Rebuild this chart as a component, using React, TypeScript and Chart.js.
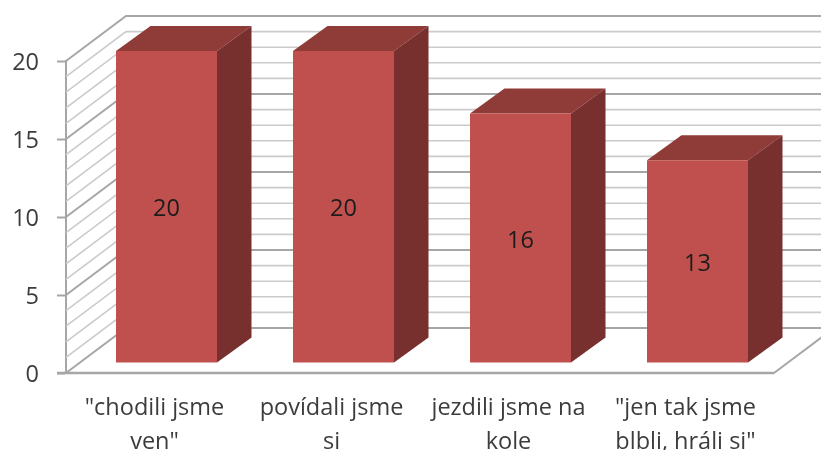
import React, { useEffect, useRef } from "react";
import { Chart, registerables } from "chart.js";

Chart.register(...registerables);

const categories = [['"chodili jsme', 'ven"'], ['povídali jsme', 'si'], ['jezdili jsme na', 'kole'], ['"jen tak jsme', 'blbli, hráli si"']];
const values = [20, 20, 16, 13];

const FONT = "'Open Sans', Lato, sans-serif";
const WALL_DX = 60;
const WALL_DY = 45;
const BAR_DX = 34.5;
const BAR_DY = 25;
const SHIFT_X = 12;
const SHIFT_Y = 10;
const MINOR = "#cbcbcb";
const MAJOR = "#a6a6a6";

const threeD = {
  id: "threeD",
  beforeDatasetsDraw(chart: any) {
    const { ctx, chartArea, scales } = chart;
    const y = scales.y;
    const line = (pts: number[][], color: string, w: number) => {
      ctx.beginPath();
      pts.forEach((p, i) => (i ? ctx.lineTo(p[0], p[1]) : ctx.moveTo(p[0], p[1])));
      ctx.strokeStyle = color;
      ctx.lineWidth = w;
      ctx.stroke();
    };
    const L = chartArea.left;
    const R = chartArea.right;
    ctx.save();
    y.ticks.forEach((t: any) => {
      const py = y.getPixelForValue(t.value);
      const major = t.value % 5 === 0;
      line(
        [[L, py], [L + WALL_DX, py - WALL_DY], [R + WALL_DX, py - WALL_DY]],
        major ? MAJOR : MINOR,
        major ? 2 : 1.6
      );
    });
    const by = y.getPixelForValue(0);
    line([[R, by], [R + WALL_DX, by - WALL_DY]], MAJOR, 2);
    line([[L - 9, by], [R, by]], MAJOR, 2.4);
    chart.getDatasetMeta(0).data.forEach((b: any) => {
      const x0 = b.x - b.width / 2 + SHIFT_X;
      const x1 = b.x + b.width / 2 + SHIFT_X;
      const top = b.y - SHIFT_Y;
      const bot = b.base - SHIFT_Y;
      ctx.fillStyle = "#8f3b38";
      ctx.beginPath();
      ctx.moveTo(x0, top);
      ctx.lineTo(x0 + BAR_DX, top - BAR_DY);
      ctx.lineTo(x1 + BAR_DX, top - BAR_DY);
      ctx.lineTo(x1, top);
      ctx.closePath();
      ctx.fill();
      ctx.fillStyle = "#77302e";
      ctx.beginPath();
      ctx.moveTo(x1, top);
      ctx.lineTo(x1 + BAR_DX, top - BAR_DY);
      ctx.lineTo(x1 + BAR_DX, bot - BAR_DY);
      ctx.lineTo(x1, bot);
      ctx.closePath();
      ctx.fill();
    });
    ctx.restore();
  },
  beforeDatasetDraw(chart: any) {
    chart.ctx.save();
    chart.ctx.translate(SHIFT_X, -SHIFT_Y);
  },
  afterDatasetDraw(chart: any) {
    chart.ctx.restore();
  },
  afterDatasetsDraw(chart: any) {
    const { ctx } = chart;
    ctx.save();
    ctx.font = `23.5px ${FONT}`;
    ctx.fillStyle = "#1c1c1c";
    ctx.textAlign = "center";
    ctx.textBaseline = "middle";
    chart.getDatasetMeta(0).data.forEach((b: any, i: number) => {
      ctx.fillText(String(values[i]), b.x + SHIFT_X, (b.y + b.base) / 2 - SHIFT_Y + 3);
    });
    ctx.restore();
  },
};

export default function App() {
  const ref = useRef<HTMLCanvasElement>(null);
  useEffect(() => {
    const chart = new Chart(ref.current as HTMLCanvasElement, {
      type: "bar",
      data: {
        labels: categories as any,
        datasets: [
          {
            data: values,
            backgroundColor: "#c0504d",
            barPercentage: 101 / 177,
            categoryPercentage: 1,
            clip: false as any,
          },
        ],
      },
      plugins: [threeD],
      options: {
        responsive: false,
        animation: false,
        layout: { padding: { top: 61, right: 47, left: 0, bottom: 0 } },
        plugins: { legend: { display: false }, title: { display: false }, tooltip: { enabled: false } },
        scales: {
          x: {
            grid: { display: false },
            border: { display: false },
            ticks: {
              maxRotation: 0,
              autoSkip: false,
              padding: 10,
              color: "#3c3c3c",
              font: { family: FONT, size: 23.5, lineHeight: 1.447 },
            },
            afterFit(s: any) {
              s.height = 77;
            },
          },
          y: {
            min: 0,
            max: 20,
            grid: {
              drawOnChartArea: false,
              drawTicks: true,
              tickLength: 9,
              tickWidth: 2,
              tickColor: (c: any) => (c.tick && c.tick.value % 5 === 0 ? MAJOR : "rgba(0,0,0,0)"),
            },
            border: { color: MAJOR, width: 2 },
            ticks: {
              stepSize: 1,
              autoSkip: false,
              padding: 18,
              labelOffset: 2,
              color: "#3c3c3c",
              font: { family: FONT, size: 23.5 },
              callback: (v: any) => (Number(v) % 5 === 0 ? String(v) : ""),
            },
            afterFit(s: any) {
              s.width = 66;
            },
          },
        },
      },
    } as any);
    return () => chart.destroy();
  }, []);
  return (
    <div style={{ position: "fixed", left: 0, top: 0, width: 821, height: 450, background: "#fff" }}>
      <canvas ref={ref} width={821} height={450} style={{ display: "block" }} />
    </div>
  );
}
